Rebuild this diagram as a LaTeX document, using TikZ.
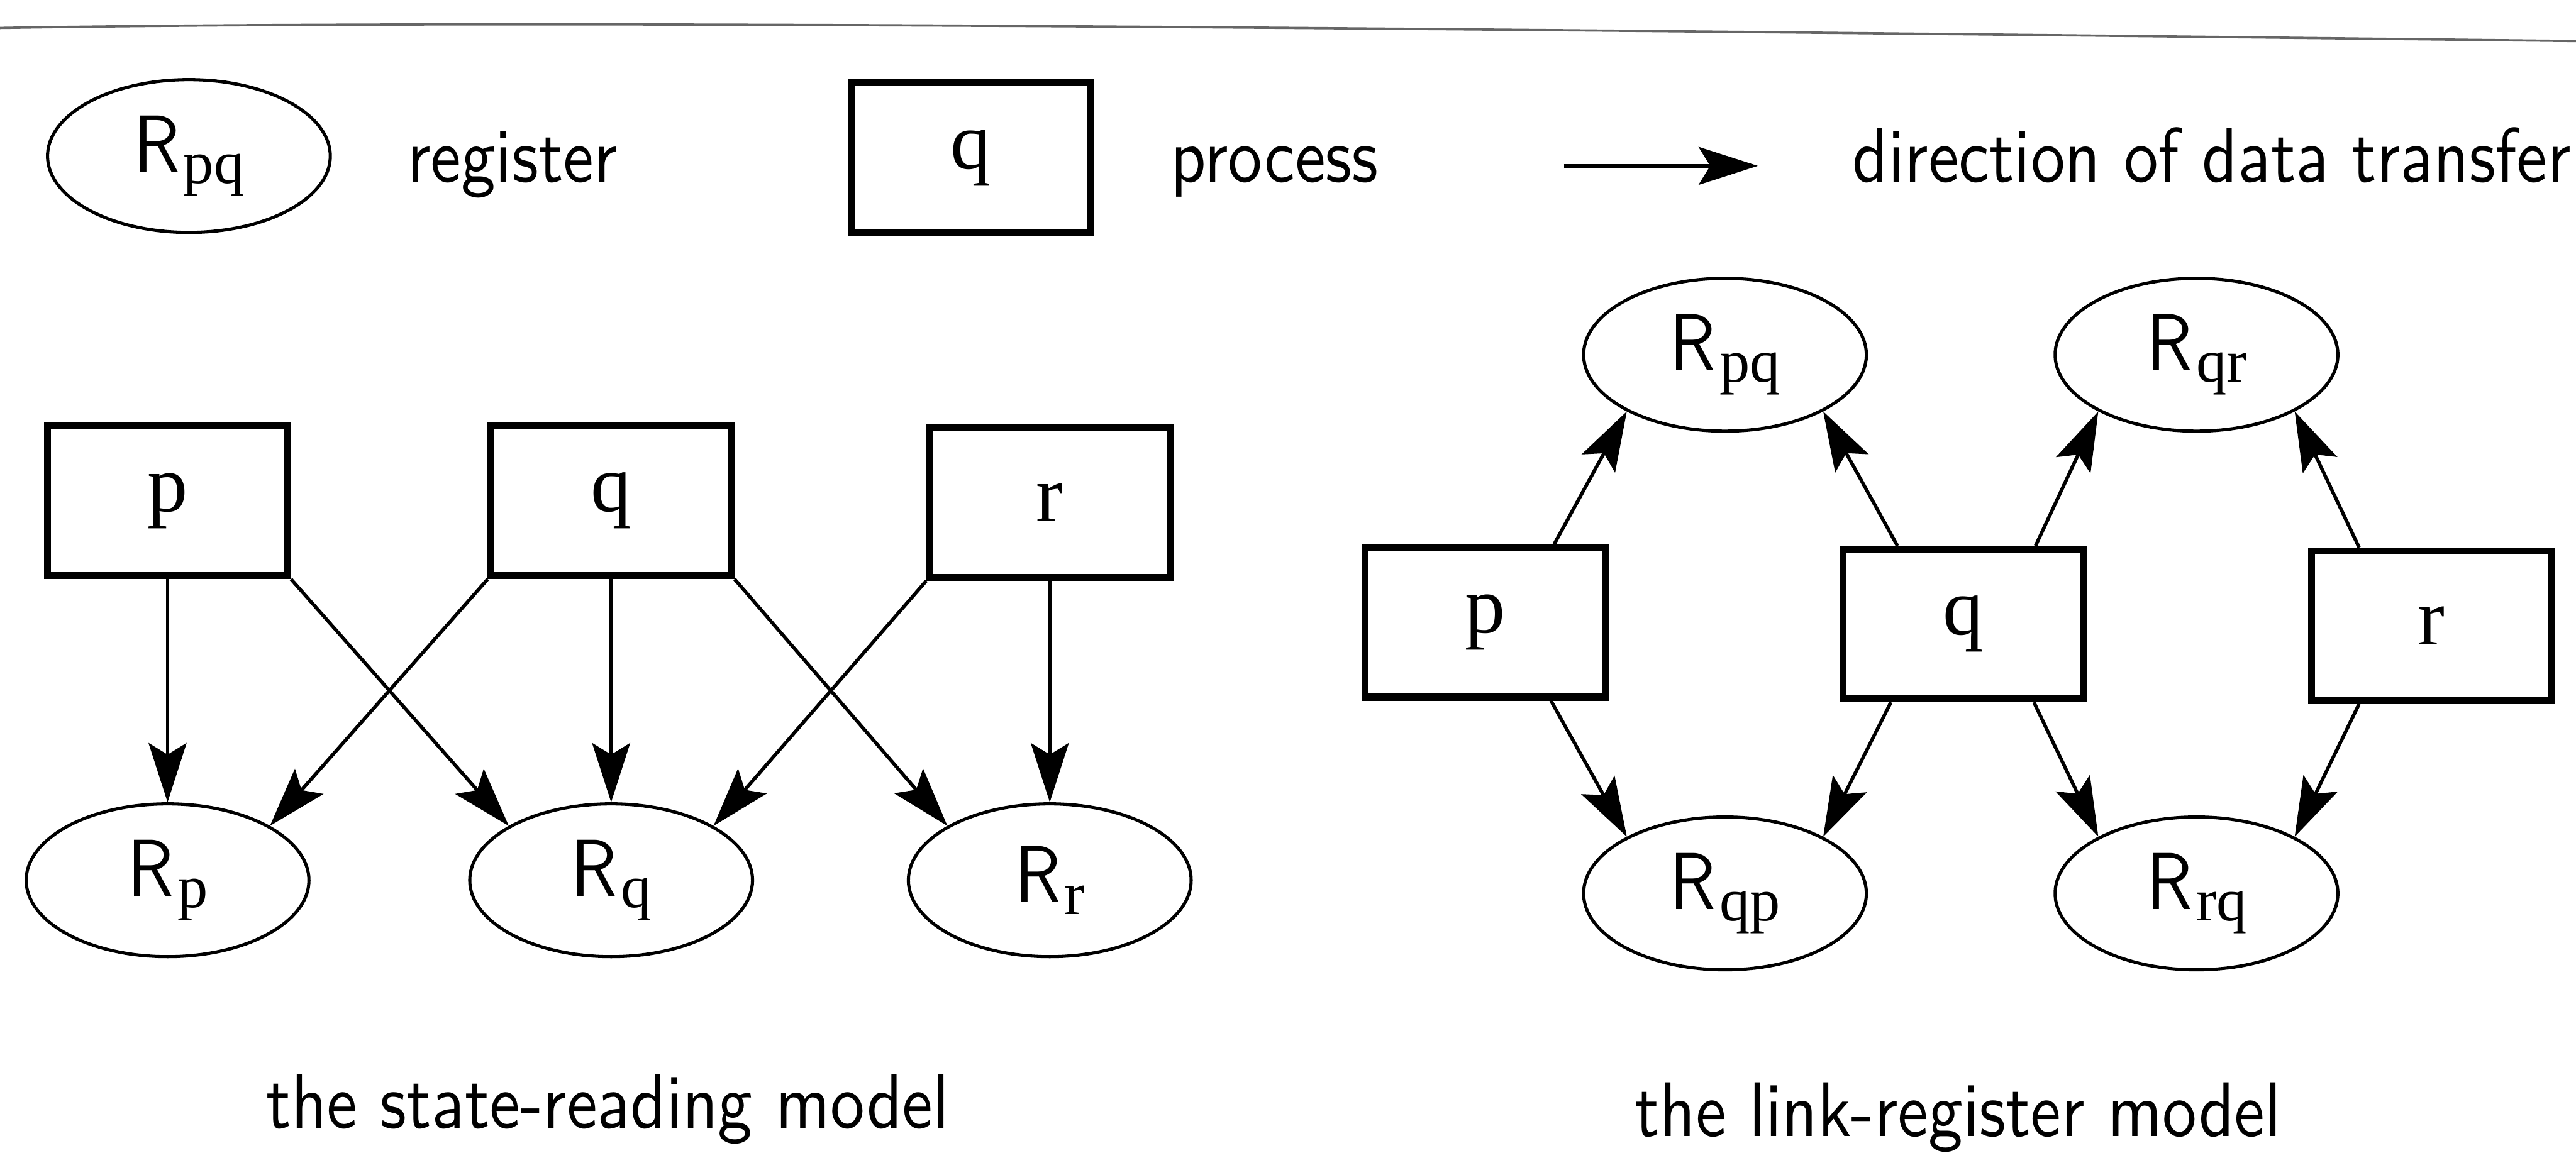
\documentclass[tikz,border=0pt]{standalone}
\usepackage{fontspec}
\usetikzlibrary{arrows.meta,shapes.geometric}
\newfontfamily\labfont{lmsans10-regular.otf}[FakeStretch=0.89]
\newfontfamily\serfont{Liberation Serif}
\newcommand\txtfont{\labfont\fontsize{13.4pt}{16pt}\selectfont}
\newcommand\procfont{\serfont\fontsize{14pt}{16pt}\selectfont}
\newcommand\regname[1]{{\labfont\fontsize{14pt}{16pt}\selectfont R}\kern0.6pt\raisebox{-2pt}{\serfont\fontsize{10.5pt}{12pt}\selectfont #1}}

\begin{document}
\begin{tikzpicture}[x=0.01cm,y=-0.01cm,
  proc/.style={draw, rectangle, line width=1.2pt, minimum width=1.46cm,
    minimum height=0.91cm, inner sep=0pt, font=\procfont},
  reg/.style={draw, ellipse, line width=0.55pt, minimum width=1.72cm,
    minimum height=0.93cm, inner sep=0pt},
  flow/.style={line width=0.6pt,
    -{Stealth[length=0.36cm,width=0.23cm,inset=0.07cm]}},
  txt/.style={inner sep=0pt, font=\txtfont}]
\useasboundingbox (0,0) rectangle (1568,702);

% rule across the top
\draw[black!60, line width=0.4pt] (0,17) .. controls (300,12) and (800,16) .. (1568,25);

% legend
\node[reg] (lgR) at (115,95) {\regname{pq}};
\node[txt, anchor=base west] (lgRt) at (247,111) {register};
\node[proc] (lgP) at (591,96) {q};
\node[txt, anchor=base west] (lgPt) at (712,111) {process};
\coordinate (lgA) at (952,101);
\coordinate (lgB) at (1070,101);
\draw[flow] (lgA) -- (lgB);
\node[txt, anchor=base west] (lgAt) at (1127,111) {direction of data transfer};

% state-reading model
\node[proc] (sp) at (102,305) {p};
\node[proc] (sq) at (372,305) {q};
\node[proc] (sr) at (639,306) {r};
\node[reg] (sRp) at (102,536) {\regname{p}};
\node[reg] (sRq) at (372,536) {\regname{q}};
\node[reg] (sRr) at (639,536) {\regname{r}};
\draw[flow] (sp.south) -- (sRp.north);
\draw[flow] (sp.south east) -- (sRq.152);
\draw[flow] (sq.south west) -- (sRp.28);
\draw[flow] (sq.south) -- (sRq.north);
\draw[flow] (sq.south east) -- (sRr.152);
\draw[flow] (sr.south west) -- (sRq.28);
\draw[flow] (sr.south) -- (sRr.north);
\node[txt, anchor=base] (capL) at (370,687) {the state-reading model};

% link-register model
\node[reg] (Rpq) at (1050,216) {\regname{pq}};
\node[reg] (Rqr) at (1337,216) {\regname{qr}};
\node[proc] (lp) at (904,379) {p};
\node[proc] (lq) at (1195,380) {q};
\node[proc] (lr) at (1480,381) {r};
\node[reg] (Rqp) at (1050,544) {\regname{qp}};
\node[reg] (Rrq) at (1337,544) {\regname{rq}};
\draw[flow] ([xshift=0.42cm]lp.north) -- (Rpq.210);
\draw[flow] ([xshift=-0.40cm]lq.north) -- (Rpq.330);
\draw[flow] ([xshift=0.44cm]lq.north) -- (Rqr.210);
\draw[flow] ([xshift=-0.44cm]lr.north) -- (Rqr.330);
\draw[flow] ([xshift=0.40cm]lp.south) -- (Rqp.150);
\draw[flow] ([xshift=-0.44cm]lq.south) -- (Rqp.30);
\draw[flow] ([xshift=0.43cm]lq.south) -- (Rrq.150);
\draw[flow] ([xshift=-0.44cm]lr.south) -- (Rrq.30);
\node[txt, anchor=base] (capR) at (1192,692) {the link-register model};
\end{tikzpicture}
\end{document}
